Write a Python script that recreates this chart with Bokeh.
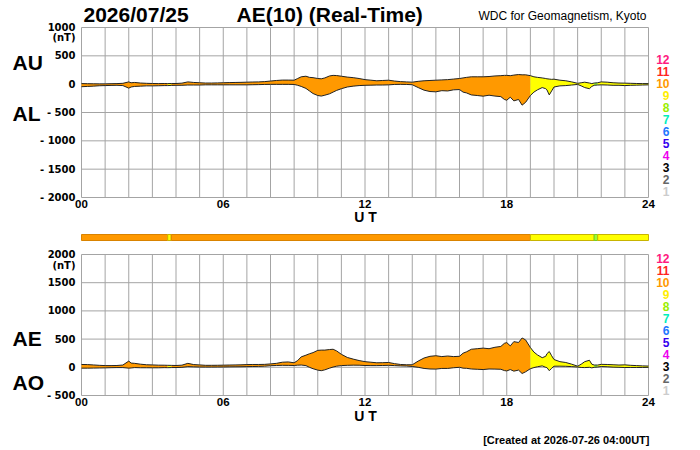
from bokeh.plotting import figure
from bokeh.models import Range1d, FixedTicker, Label, LinearAxis
from bokeh.embed import file_html
from bokeh.resources import INLINE

# UT hours of the readings
hours = [0, 0.25, 0.5, 0.75, 1, 1.25, 1.5, 1.75, 2,
         2.1, 2.25, 2.5, 2.75, 3, 3.25, 3.5,
         3.65, 3.8,
         4, 4.25, 4.5, 4.75, 5, 5.25, 5.5, 5.75, 6, 6.25, 6.5, 6.75, 7, 7.25, 7.5, 7.75, 8, 8.25, 8.5, 8.75, 9,
         9.15, 9.3, 9.5, 9.65, 9.8, 10, 10.15, 10.3, 10.5, 10.65, 10.8, 11,
         11.25, 11.5, 11.75, 12, 12.25, 12.5, 12.75, 13, 13.25, 13.5, 13.75, 14, 14.25, 14.5, 14.75, 15, 15.25, 15.5, 15.75, 16,
         16.15, 16.3, 16.5, 16.75, 17, 17.25, 17.5, 17.75,
         17.9, 18, 18.15, 18.3, 18.5, 18.65, 18.8, 19,
         19.15, 19.3, 19.5, 19.65, 19.7, 19.8, 19.9, 20,
         20.25, 20.5, 20.75, 21,
         21.15, 21.3, 21.5, 21.6, 21.7, 21.85,
         22, 22.25, 22.5, 22.75, 23, 23.25, 23.5, 23.75, 24]

au = [10, 8, 6, 5, 5, 8, 10, 15, 40,
      25, 30, 20, 15, 12, 10, 12,
      10, 12,
      12, 18, 40, 30, 25, 20, 20, 22, 25, 28, 30, 32, 35, 38, 40, 45, 55, 65, 72, 72, 70,
      100, 130, 140, 120, 115, 100, 95, 110, 145, 155, 152, 140,
      125, 115, 100, 80, 70, 60, 65, 70, 55, 45, 40, 35, 50, 60, 65, 70, 75, 80, 90, 100,
      110, 120, 130, 130, 130, 135, 145, 150,
      155, 155, 150, 160, 170, 165, 165, 150,
      130, 120, 110, 100, 95, 90, 85, 88,
      70, 60, 40, 15,
      25, 35, 20, 10, 20, 25,
      40, 35, 25, 20, 18, 15, 12, 10, 10]

al = [-45, -40, -35, -28, -25, -22, -20, -25, -70,
      -50, -40, -35, -30, -30, -28, -25,
      -25, -22,
      -20, -20, -15, -15, -15, -12, -12, -12, -12, -12, -12, -12, -12, -10, -8, -5, -3, -3, -3, -3, -5,
      -20, -40, -75, -120, -165, -200, -210, -195, -170, -140, -110, -80,
      -50, -35, -25, -20, -18, -15, -15, -12, -5, -3, -5, -10, -60, -106, -130, -135, -115, -120, -100, -95,
      -140, -155, -190, -200, -212, -195, -210, -220,
      -270, -283, -230, -295, -270, -370, -320, -200,
      -140, -100, -60, -80, -100, -190, -120, -50,
      -30, -25, -15, -5,
      -30, -60, -80, -40, -20, -15,
      -12, -15, -20, -20, -25, -20, -18, -15, -12]

ae = [50, 48, 42, 35, 30, 30, 32, 40, 110,
      75, 70, 55, 45, 42, 38, 37,
      35, 34,
      32, 38, 70, 48, 42, 35, 35, 36, 38, 40, 42, 44, 48, 50, 50, 52, 60, 70, 90, 95, 80,
      120, 185, 215, 240, 260, 300, 305, 305, 315, 320, 290, 230,
      175, 145, 120, 100, 90, 80, 82, 85, 65, 50, 45, 45, 110, 165, 195, 205, 190, 200, 190, 195,
      250, 275, 320, 330, 340, 330, 355, 370,
      425, 438, 380, 455, 440, 520, 485, 350,
      270, 220, 170, 195, 240, 280, 205, 138,
      100, 85, 55, 20,
      55, 100, 125, 55, 40, 40,
      52, 50, 45, 40, 43, 35, 30, 25, 22]

ao = [-15, -15, -14, -12, -10, -7, -5, -5, -15,
      -12, -5, -8, -8, -9, -9, -6,
      -7, -5,
      -4, -1, 12, 8, 5, 4, 4, 5, 6, 8, 9, 10, 12, 14, 16, 20, 28, 32, 35, 34, 32,
      38, 40, 30, 0, -25, -50, -60, -45, -15, 5, 20, 30,
      35, 38, 37, 32, 30, 30, 32, 35, 30, 25, 22, 15, 0, -20, -30, -32, -20, -20, -8, 0,
      -15, -18, -30, -35, -40, -30, -32, -35,
      -58, -64, -40, -68, -50, -110, -80, -25,
      -5, 10, 25, 0, -5, -60, -18, 19,
      20, 18, 12, 5,
      -3, -5, 0, -10, 0, 5,
      14, 10, 3, 0, -4, -3, -3, -3, -1]

# number of stations used
seg_start = [0, 3.65, 3.8, 19.0, 21.7, 21.85]
seg_end = [3.65, 3.8, 19.0, 21.7, 21.85, 24]
seg_count = [10, 9, 10, 9, 8, 9]

levels = [12, 11, 10, 9, 8, 7, 6, 5, 4, 3, 2, 1]
level_colors = ["#ff1a80", "#ff2222", "#ff9900", "#ffee00", "#99ee00", "#00eebb",
                "#2277ff", "#3300ee", "#ee00ee", "#000000", "#666666", "#cccccc"]
fill_colors = {10: "#ff9900", 9: "#ffff00", 8: "#99ff33"}
edge_colors = {10: "#d98300", 9: "#c8b400", 8: "#77cc22"}

top_ticks = [-2000, -1500, -1000, -500, 0, 500, 1000]
bot_ticks = [-500, 0, 500, 1000, 1500, 2000]
x_ticks = [0, 6, 12, 18, 24]
x_tick_labels = ["00", "06", "12", "18", "24"]
grid_hours = list(range(25))

FONT = "Liberation Sans"
GRID = "#a4a4a4"
W, H = 700, 450
# pixel layout of the panels
PX0, PX1 = 81, 648
TOP_Y0, TOP_Y1 = 27, 197
BOT_Y0, BOT_Y1 = 254, 395
BAR_Y0, BAR_Y1 = 234, 240


def page_range(v_top, v_bot, p_top, p_bot, p_max):
    k = (v_top - v_bot) / (p_bot - p_top)
    return Range1d(v_bot - (p_max - p_bot) * k, v_top + p_top * k)


xk = 24 / (PX1 - PX0)
p = figure(width=W, height=H, output_backend="svg", toolbar_location=None, tools="",
           x_range=Range1d(-PX0 * xk, 24 + (W - PX1) * xk),
           y_range=page_range(1000, -2000, TOP_Y0, TOP_Y1, H),
           x_axis_type=None, y_axis_type=None, min_border=0)
p.extra_y_ranges = {"bot": page_range(2000, -500, BOT_Y0, BOT_Y1, H),
                    "bar": page_range(1, 0, BAR_Y0, BAR_Y1, H)}
p.outline_line_color = None
p.grid.visible = False


def px_x(px):
    return (px - PX0) * xk


def px_y(py):
    return 1000 - (py - TOP_Y0) * 3000 / (TOP_Y1 - TOP_Y0)


def style_axis(ax):
    ax.axis_line_color = None
    ax.major_tick_line_color = None
    ax.minor_tick_line_color = None
    ax.major_tick_out = 0
    ax.major_tick_in = 0
    ax.major_label_text_font_style = "bold"
    ax.major_label_text_color = "black"


def panel(upper, lower, ymin, ymax, ticks, rng):
    # grid
    p.segment(x0=grid_hours, y0=[ymin] * len(grid_hours), x1=grid_hours, y1=[ymax] * len(grid_hours),
              line_color=GRID, line_width=1, y_range_name=rng)
    p.segment(x0=[0] * len(ticks), y0=ticks, x1=[24] * len(ticks), y1=ticks,
              line_color=GRID, line_width=1, y_range_name=rng)
    # band coloured by station count
    for s, e, c in zip(seg_start, seg_end, seg_count):
        idx = [i for i, h in enumerate(hours) if s <= h <= e]
        p.varea(x=[hours[i] for i in idx], y1=[lower[i] for i in idx], y2=[upper[i] for i in idx],
                fill_color=fill_colors[c], y_range_name=rng)
    p.line(hours, upper, line_color="#222222", line_width=1, y_range_name=rng)
    p.line(hours, lower, line_color="#222222", line_width=1, y_range_name=rng)

    yax = LinearAxis(y_range_name=rng, fixed_location=0, bounds=(ymin, ymax),
                     ticker=FixedTicker(ticks=ticks),
                     major_label_overrides={t: ("- %d" % -t if t < 0 else str(t)) for t in ticks})
    style_axis(yax)
    yax.major_label_text_font = "DejaVu Sans"
    yax.major_label_text_font_size = "10px"
    yax.major_label_standoff = 6
    p.add_layout(yax, "left")

    xax = LinearAxis(y_range_name=rng, fixed_location=ymin, bounds=(0, 24),
                     ticker=FixedTicker(ticks=x_ticks),
                     major_label_overrides=dict(zip(x_ticks, x_tick_labels)))
    style_axis(xax)
    xax.major_label_text_font = FONT
    xax.major_label_text_font_size = "11.5px"
    xax.major_label_standoff = 2
    p.add_layout(xax, "below")


panel(au, al, -2000, 1000, top_ticks, "default")
panel(ae, ao, -500, 2000, bot_ticks, "bot")

# station count bar
p.quad(left=seg_start, right=seg_end, bottom=0, top=1,
       fill_color=[fill_colors[c] for c in seg_count],
       line_color=[edge_colors[c] for c in seg_count], line_width=1, y_range_name="bar")


def label(x, y, text, size, style="bold", align="left", color="black", font=FONT):
    # y is the wanted baseline on the page; lift by the offset the renderer adds
    fs = float(size[:-2])
    p.add_layout(Label(x=px_x(x), y=px_y(y - (2 + 0.3 * fs)), text=text, text_font=font,
                       text_font_size=size, text_font_style=style, text_align=align,
                       text_baseline="alphabetic", text_color=color))


label(83, 22.5, "2026/07/25", "21px")
label(236, 22.5, "AE(10) (Real-Time)", "21px")
label(646, 21.5, "WDC for Geomagnetism, Kyoto", "12px", style="normal", align="right")
label(12, 70.5, "AU", "21px")
label(12, 121.5, "AL", "21px")
label(12, 346, "AE", "21px")
label(12, 390, "AO", "21px")
label(75, 42, "(nT)", "10px", align="right", font="DejaVu Sans")
label(75, 269.5, "(nT)", "10px", align="right", font="DejaVu Sans")
label(365, 223, "U T", "14px", align="center")
label(365, 421.5, "U T", "14px", align="center")
label(649, 445, "[Created at 2026-07-26 04:00UT]", "11px", align="right")
for i, (lv, col) in enumerate(zip(levels, level_colors)):
    label(669, 65 + 12 * i, str(lv), "12px", align="right", color=col)
    label(669, 263.3 + 12.06 * i, str(lv), "12px", align="right", color=col)

open("out.html", "w").write(file_html(p, INLINE))
